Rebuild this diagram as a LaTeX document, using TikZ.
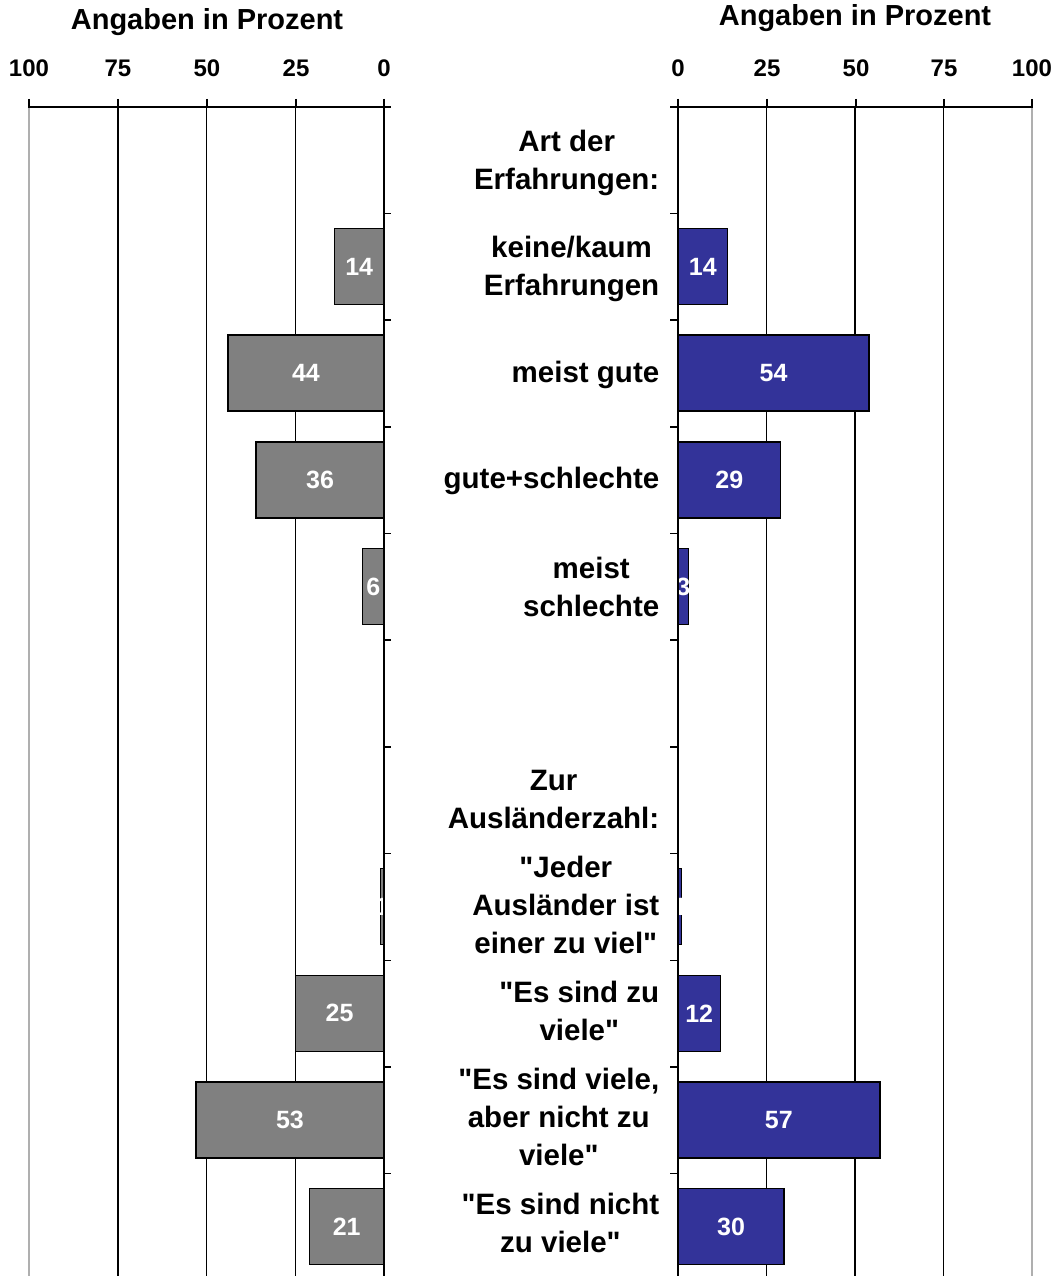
\documentclass[tikz,border=0pt]{standalone}
\usepackage{fontspec}
\newfontfamily\chartfont{Liberation Sans}
\definecolor{bargray}{RGB}{128,128,128}
\definecolor{barblue}{RGB}{51,51,153}
\definecolor{edgegray}{RGB}{175,175,175}
\begin{document}
\begin{tikzpicture}[x=1pt,y=-1pt,line width=1.5pt,
  head/.style={font=\chartfont\fontsize{29}{32}\selectfont\bfseries,inner sep=0pt},
  ticklab/.style={font=\chartfont\fontsize{24}{27}\selectfont\bfseries,inner sep=0pt},
  catlab/.style={font=\chartfont\fontsize{29.5}{38}\selectfont\bfseries,align=center,anchor=east,inner sep=0pt},
  val/.style={font=\chartfont\fontsize{25}{28}\selectfont\bfseries,text=white,inner sep=0pt}]
\useasboundingbox (0,0) rectangle (1058,1276);
% gridlines
\foreach \g in {1,2,3} {
  \draw (384-88.75*\g,107) -- (384-88.75*\g,1276);
  \draw (678+88.5*\g,107) -- (678+88.5*\g,1276);
}
\draw[edgegray] (29,107) -- (29,1276);
\draw[edgegray] (1032,107) -- (1032,1276);
% bars: row / left value / right value
\foreach \r/\a/\b in {1/14/14,2/44/54,3/36/29,4/6/3,7/1/1,8/25/12,9/53/57,10/21/30} {
  \draw[fill=bargray] (384-3.55*\a,106.7*\r+121.7) rectangle (384,106.7*\r+197.7);
  \draw[fill=barblue] (678,106.7*\r+121.7) rectangle (678+3.54*\b,106.7*\r+197.7);
  \node[val] (lv\r) at (384-1.775*\a,106.7*\r+159.7) {\a};
  \node[val] (rv\r) at (678+1.77*\b,106.7*\r+159.7) {\b};
}
% zero axes
\draw (384,99) -- (384,1276);
\draw (678,99) -- (678,1276);
\foreach \i in {2,...,11} {
  \draw (384,106.7*\i) -- (391,106.7*\i);
  \draw (670,106.7*\i) -- (678,106.7*\i);
}
% top scales
\draw (28,107) -- (391,107);
\draw (670,107) -- (1033,107);
\foreach \x/\t in {29/100,118/75,207/50,296/25,384/0} {
  \draw (\x,99) -- (\x,107);
  \node[ticklab] (lt\t) at (\x,68) {\t};
}
\foreach \x/\t in {678/0,767/25,856/50,944/75,1032/100} {
  \draw (\x,99) -- (\x,107);
  \node[ticklab] (rt\t) at (\x,68) {\t};
}
\node[head] (lhead) at (207,22) {Angaben in Prozent};
\node[head] (rhead) at (855,18) {Angaben in Prozent};
% category labels
\foreach \r/\t in {0/{Art der\\Erfahrungen:},1/{keine/kaum\\Erfahrungen},2/{meist gute},
  3/{gute+schlechte},4/{meist\\schlechte},6/{Zur\\Ausländerzahl:},
  7/{"Jeder\\Ausländer ist\\einer zu viel"},8/{"Es sind zu\\viele"},
  9/{"Es sind viele,\\aber nicht zu\\viele"},10/{"Es sind nicht\\zu viele"}}
  \node[catlab] (cat\r) at (660,106*\r+163) {\t};
\end{tikzpicture}
\end{document}
